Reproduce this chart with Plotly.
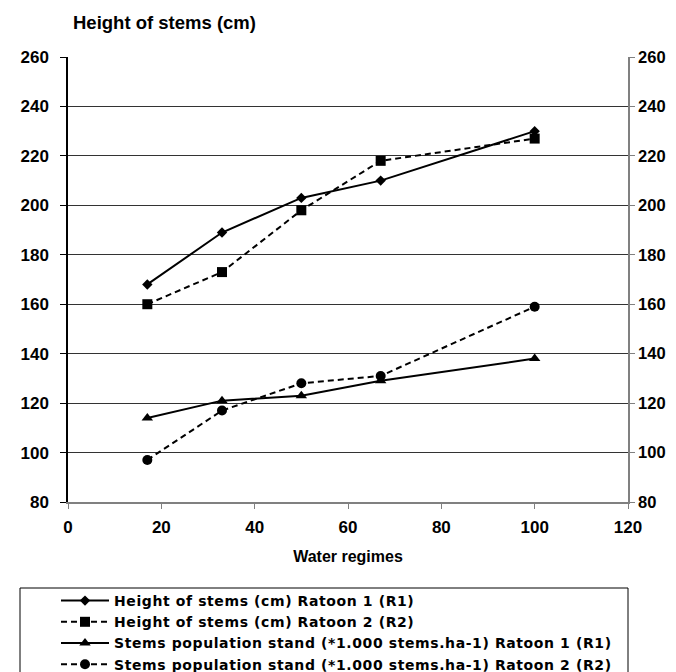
import plotly.graph_objects as go

water_regimes = [17, 33, 50, 67, 100]
height_r1 = [168, 189, 203, 210, 230]
height_r2 = [160, 173, 198, 218, 227]
stems_r1 = [114, 121, 123, 129, 138]
stems_r2 = [97, 117, 128, 131, 159]

names = [
    "Height of stems (cm) Ratoon 1 (R1)",
    "Height of stems (cm) Ratoon 2 (R2)",
    "Stems population stand (*1.000 stems.ha-1) Ratoon 1 (R1)",
    "Stems population stand (*1.000 stems.ha-1) Ratoon 2 (R2)",
]
y_ticks = [80, 100, 120, 140, 160, 180, 200, 220, 240, 260]
x_ticks = [0, 20, 40, 60, 80, 100, 120]

FONT = "Liberation Sans, Arial, sans-serif"
LFONT = "DejaVu Sans, sans-serif"

fig = go.Figure()
series = [
    (height_r1, "solid", "diamond", 8),
    (height_r2, "6px,4px", "square", 10),
    (stems_r1, "solid", "triangle-up", 10),
    (stems_r2, "6px,4px", "circle", 10),
]
for name, (vals, dash, sym, size) in zip(names, series):
    fig.add_trace(go.Scatter(
        x=water_regimes, y=vals, mode="lines+markers",
        name='<span style="letter-spacing:0.6px">' + name + "</span>",
        line=dict(color="black", width=2, dash=dash),
        marker=dict(symbol=sym, size=size, color="black"),
    ))
# invisible companion so the right-hand axis is drawn
fig.add_trace(go.Scatter(
    x=water_regimes, y=height_r1, yaxis="y2", mode="lines",
    line=dict(width=0, color="rgba(0,0,0,0)"), showlegend=False, hoverinfo="skip",
))

OFF = 8
W, H = 676, 672
PL, PR, PT, PB = 68, 628, 57, 502  # plot area in window pixels
L, R, T, B = PL - OFF, W - (PR - OFF), PT - OFF, H - (PB - OFF)
pw, ph = W - L - R, H - T - B

def px_x(p):
    return (p - OFF - L) / pw

def px_y(p):
    return 1 - (p - OFF - T) / ph

def cont_y(p):
    return 1 - (p - OFF) / H

tick_font = dict(family=FONT, size=17, color="black", weight="bold")

fig.update_layout(
    width=W, height=H,
    margin=dict(l=L, r=R, t=T, b=B, autoexpand=False),
    paper_bgcolor="white", plot_bgcolor="white",
    font=dict(family=FONT, size=15, color="black"),
    showlegend=True,
    legend=dict(
        x=px_x(56), y=cont_y(585), xanchor="left", yanchor="top", yref="container",
        bgcolor="rgba(0,0,0,0)", borderwidth=0,
        itemwidth=48, tracegroupgap=0,
        font=dict(family=LFONT, size=14, color="black", weight="bold"),
    ),
    xaxis=dict(
        range=[0, 120], tickvals=x_ticks, showgrid=False, zeroline=False,
        showline=True, linecolor="#808080", linewidth=1.5,
        ticks="outside", ticklen=5, tickcolor="#808080",
        tickfont=tick_font, automargin=False, ticklabelstandoff=4,
        title=dict(text="Water regimes", font=dict(family=FONT, size=16, weight="bold"), standoff=15),
    ),
    yaxis=dict(
        range=[80, 260], tickvals=y_ticks, showgrid=True, gridcolor="#333333", gridwidth=1,
        zeroline=False, showline=True, linecolor="black", linewidth=1.5,
        ticks="outside", ticklen=6, tickcolor="black",
        tickfont=tick_font, automargin=False, ticklabelstandoff=8,
    ),
    yaxis2=dict(
        range=[80, 260], tickvals=y_ticks, overlaying="y", side="right",
        showgrid=False, zeroline=False, showline=True, linecolor="#808080", linewidth=1.5,
        ticks="outside", ticklen=5, tickcolor="#808080",
        tickfont=dict(family=FONT, size=16.5, color="black", weight="bold"),
        automargin=False,
    ),
    annotations=[dict(
        text="<b>Height of stems (cm)</b>", xref="paper", yref="paper",
        x=px_x(71), y=px_y(23), xanchor="left", yanchor="middle", showarrow=False,
        font=dict(family=FONT, size=18.5, color="black"),
    )],
    shapes=[dict(
        type="rect", xref="paper", yref="paper",
        x0=px_x(20), x1=px_x(628), y0=px_y(588), y1=px_y(690),
        line=dict(color="black", width=1),
    )],
)

fig.write_html("out.html")
